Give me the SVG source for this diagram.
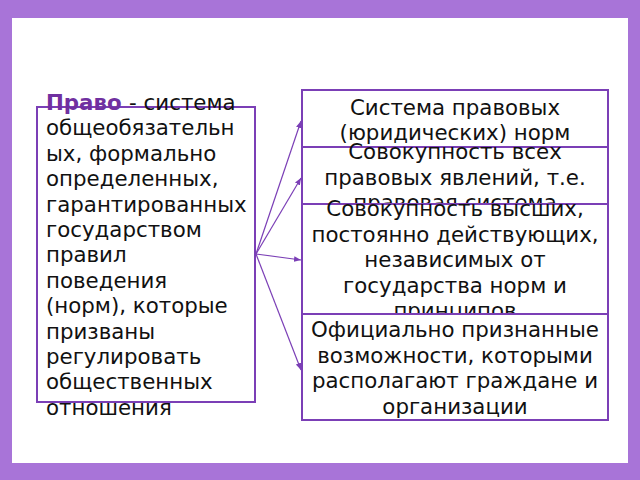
<svg xmlns="http://www.w3.org/2000/svg" width="640" height="480" viewBox="0 0 640 480">
  <defs>
    <marker id="ah" viewBox="0 0 10 10" refX="10" refY="5" markerWidth="7" markerHeight="7" markerUnits="userSpaceOnUse" orient="auto">
      <path d="M0,1 L10,5 L0,9 Z" fill="#7b3fb6"/>
    </marker>
  </defs>
  <style>
    .box { fill: #ffffff; stroke: #7b3fb6; stroke-width: 2; }
    .t { font-family: "DejaVu Sans", "Noto Sans", sans-serif; font-size: 21.33px; fill: #111111; }
    .c { text-anchor: middle; }
    .b { font-weight: bold; fill: #7030a0; }
    .con { stroke: #7b3fb6; stroke-width: 1.2; fill: none; marker-end: url(#ah); }
  </style>
  <rect x="0" y="0" width="640" height="480" fill="#a874d8"/>
  <rect x="12" y="18" width="616" height="445" fill="#ffffff"/>

  <g id="left">
    <rect class="box" x="37" y="107" width="218" height="295"/>
    <text class="t" x="46">
      <tspan x="46" y="110"><tspan class="b">Право </tspan>- система</tspan>
      <tspan x="46" y="135.4">общеобязательн</tspan>
      <tspan x="46" y="160.8">ых, формально</tspan>
      <tspan x="46" y="186.2">определенных,</tspan>
      <tspan x="46" y="211.6">гарантированных</tspan>
      <tspan x="46" y="237">государством</tspan>
      <tspan x="46" y="262.4">правил</tspan>
      <tspan x="46" y="287.8">поведения</tspan>
      <tspan x="46" y="313.2">(норм), которые</tspan>
      <tspan x="46" y="338.6">призваны</tspan>
      <tspan x="46" y="364">регулировать</tspan>
      <tspan x="46" y="389.4">общественных</tspan>
      <tspan x="46" y="414.8">отношения</tspan>
    </text>
  </g>

  <g id="box1">
    <rect class="box" x="302" y="90" width="306" height="57"/>
    <text class="t c"><tspan x="455" y="115">Система правовых</tspan><tspan x="455" y="140">(юридических) норм</tspan></text>
  </g>
  <g id="box2">
    <rect class="box" x="302" y="147" width="306" height="57"/>
    <text class="t c"><tspan x="455" y="159">Совокупность всех</tspan><tspan x="455" y="184.5">правовых явлений, т.е.</tspan><tspan x="455" y="210">правовая система</tspan></text>
  </g>
  <g id="box3">
    <rect class="box" x="302" y="204" width="306" height="110"/>
    <text class="t c"><tspan x="455" y="216">Совокупность высших,</tspan><tspan x="455" y="241.5">постоянно действующих,</tspan><tspan x="455" y="267">независимых от</tspan><tspan x="455" y="292.5">государства норм и</tspan><tspan x="455" y="318">принципов</tspan></text>
  </g>
  <g id="box4">
    <rect class="box" x="302" y="314" width="306" height="106"/>
    <text class="t c"><tspan x="455" y="337">Официально признанные</tspan><tspan x="455" y="362.5">возможности, которыми</tspan><tspan x="455" y="388">располагают граждане и</tspan><tspan x="455" y="413.5">организации</tspan></text>
  </g>

  <g id="connectors">
    <line class="con" x1="256" y1="254" x2="301" y2="121"/>
    <line class="con" x1="256" y1="254" x2="301" y2="178"/>
    <line class="con" x1="256" y1="254" x2="301" y2="260"/>
    <line class="con" x1="256" y1="254" x2="301" y2="370"/>
  </g>
</svg>
